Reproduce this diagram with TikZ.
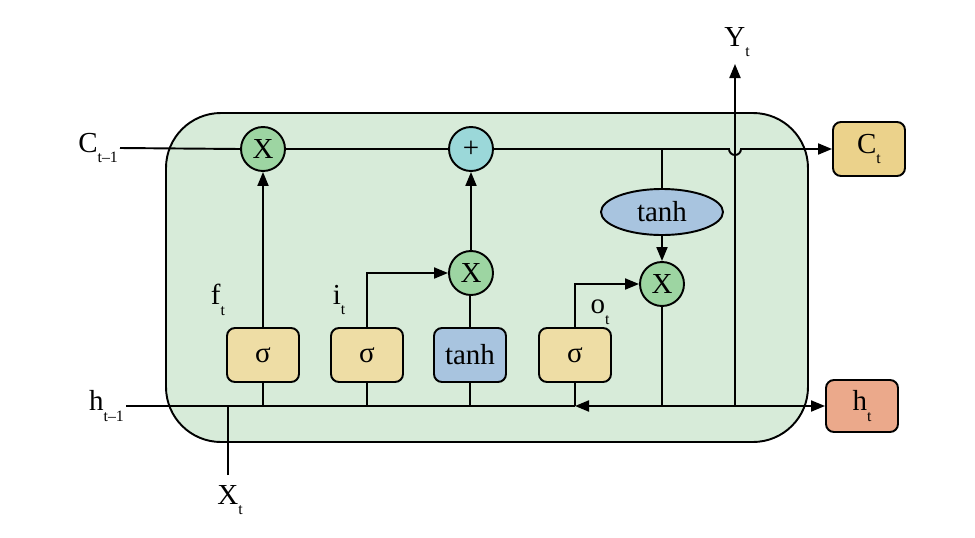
\documentclass[tikz,border=0pt]{standalone}
\usepackage{fontspec}
\setmainfont{Liberation Serif}
\usetikzlibrary{arrows.meta,shapes.geometric,positioning}
\definecolor{cellgreen}{HTML}{D7EBD9}
\definecolor{opgreen}{HTML}{9DD5A2}
\definecolor{opcyan}{HTML}{9BD8D9}
\definecolor{gateyellow}{HTML}{EEDDA5}
\definecolor{gateblue}{HTML}{A8C4DF}
\definecolor{outyellow}{HTML}{EBD28B}
\definecolor{outred}{HTML}{EBA98B}
\newcommand{\vsub}[2]{#1\raisebox{-0.8ex}{\fontsize{9}{9}\selectfont #2}}
\tikzset{
  cell/.style    = {draw, line width=1.1pt, rounded corners=1.1cm, fill=cellgreen},
  gatebox/.style = {draw, line width=1.1pt, rounded corners=1.6mm,
                    minimum width=1.44cm, minimum height=1.08cm, fill=gateyellow},
  outbox/.style  = {gatebox, fill=outyellow},
  op/.style      = {circle, draw, line width=1.1pt, minimum size=0.88cm,
                    inner sep=0pt, fill=opgreen},
  wire/.style    = {line width=1.1pt},
  flow/.style    = {wire, -{Triangle[length=2.8mm,width=2.2mm]}}
}
\begin{document}
\begin{tikzpicture}[x=0.02cm, y=-0.02cm,
    every node/.style={font=\fontsize{16.5}{18}\selectfont}]
  \useasboundingbox (0,0) rectangle (975,538);
  % the cell
  \draw[cell] (166,113) rectangle (808,442);
  % operators on the cell state
  \node[op] (fX) at (263,149) {X};
  \node[op, fill=opcyan] (plus) at (471,149) {+};
  \node[op] (iX) at (471,273) {X};
  \node[op] (oX) at (662,284) {X};
  \node[ellipse, draw, line width=1.1pt, fill=gateblue, minimum width=2.44cm,
        minimum height=0.92cm, inner sep=0pt] (ctanh) at (662,212) {tanh};
  % gates
  \node[gatebox] (fg) at (263,355) {σ};
  \node[gatebox] (ig) at (367,355) {σ};
  \node[gatebox, fill=gateblue] (cg) at (470,355) {tanh};
  \node[gatebox] (og) at (575,355) {σ};
  % outputs and labels
  \node[outbox] (Ct) at (869,149) {\vsub{C}{t}};
  \node[outbox, fill=outred, minimum height=1.04cm] (ht) at (862,406) {\vsub{h}{t}};
  \node[anchor=east, inner sep=1pt] (Cprev) at (120,148) {\vsub{C}{t–1}};
  \node[anchor=east, inner sep=1pt] (hprev) at (126,406) {\vsub{h}{t–1}};
  \node (Yt) at (737,42) {\vsub{Y}{t}};
  \node (Xt) at (230,500) {\vsub{X}{t}};
  \node (ft) at (218,300) {\vsub{f}{t}};
  \node (it) at (339,300) {\vsub{i}{t}};
  \node (ot) at (600,312) {\vsub{o}{t}};
  \coordinate (xin) at (228,475);
  \coordinate (ytop) at (735,64);
  % cell state line
  \draw[wire] (Cprev.east) -- (fX.west);
  \draw[wire] (fX.east) -- (plus.west);
  \draw[flow] (plus.east) -- (729,149) arc (180:0:6) -- (Ct.west);
  \draw[wire] (662,149) -- (ctanh.north);
  \draw[flow] (ctanh.south) -- (oX.north);
  % gate connections
  \draw[flow] (fg.north) -- (fX.south);
  \draw[flow] (ig.north) |- (iX.west);
  \draw[wire] (cg.north) -- (cg.north |- iX.south);
  \draw[flow] (iX.north) -- (plus.south);
  \draw[flow] (og.north) |- (oX.west);
  % hidden state line
  \draw[wire] (hprev.east) -- (575,406);
  \draw[wire] (xin) -- (228,406);
  \draw[wire] (fg.south) -- (fg.south |- 0,406);
  \draw[wire] (ig.south) -- (ig.south |- 0,406);
  \draw[wire] (cg.south) -- (cg.south |- 0,406);
  \draw[wire] (og.south) -- (og.south |- 0,406);
  \draw[wire] (oX.south) -- (662,406);
  \draw[flow] (662,406) -- (575,406);
  \draw[flow] (662,406) -- (ht.west);
  \draw[flow] (735,406) -- (ytop);
\end{tikzpicture}
\end{document}
